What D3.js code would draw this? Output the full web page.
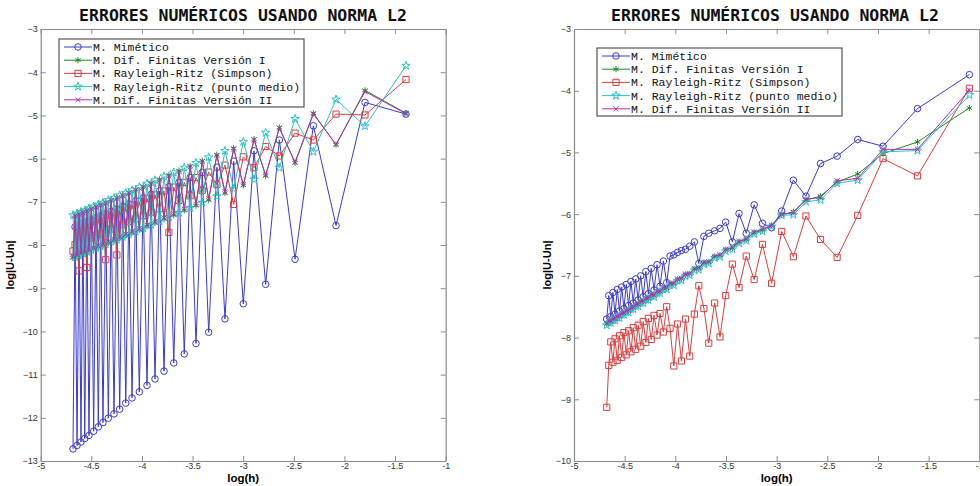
<!DOCTYPE html>
<html>
<head>
<meta charset="utf-8">
<script src="https://cdn.jsdelivr.net/npm/d3@7"></script>
<style>
body { margin: 0; background: #fff; }
</style>
</head>
<body>
<div id="chart"></div>
<script>
// Tick values / labels
var xTicks = [-5, -4.5, -4, -3.5, -3, -2.5, -2, -1.5, -1];
var xTickLabels = ["-5", "-4.5", "-4", "-3.5", "-3", "-2.5", "-2", "-1.5", "-1"];
var leftYTicks = [-13, -12, -11, -10, -9, -8, -7, -6, -5, -4, -3];
var rightYTicks = [-10, -9, -8, -7, -6, -5, -4, -3];

var titleText = "ERRORES NUMÉRICOS USANDO NORMA L2";
var xLabel = "log(h)";
var yLabel = "log|U-Un|";
var seriesNames = ["M. Mimético", "M. Dif. Finitas Versión I", "M. Rayleigh-Ritz (Simpson)",
    "M. Rayleigh-Ritz (punto medio)", "M. Dif. Finitas Versión II"];

// Left panel data (log h, log error)
var leftX = [-4.681, -4.661, -4.641, -4.621, -4.602, -4.583, -4.565, -4.544, -4.523, -4.500,
    -4.477, -4.454, -4.431, -4.408, -4.385, -4.358, -4.332, -4.304, -4.276, -4.248,
    -4.220, -4.190, -4.160, -4.129, -4.098, -4.062, -4.026, -3.988, -3.950, -3.910,
    -3.871, -3.826, -3.782, -3.734, -3.686, -3.634, -3.582, -3.524, -3.466, -3.404,
    -3.341, -3.260, -3.180, -3.094, -2.999, -2.893, -2.778, -2.643, -2.488, -2.307,
    -2.083, -1.797, -1.392];
var leftMimetico = [-12.72, -7.58, -12.64, -7.54, -12.56, -7.50, -12.48, -7.46, -12.41, -7.42,
    -12.31, -7.37, -12.21, -7.33, -12.11, -7.28, -12.01, -7.22, -11.91, -7.17,
    -11.80, -7.11, -11.66, -7.05, -11.54, -6.98, -11.40, -6.91, -11.25, -6.83,
    -11.10, -6.75, -10.92, -6.65, -10.73, -6.55, -10.52, -6.44, -10.28, -6.32,
    -10.02, -6.20, -9.71, -6.06, -9.36, -5.82, -8.91, -5.57, -8.33, -5.24,
    -7.55, -4.70, -4.97];
var leftDifI = [-8.30, -7.31, -8.26, -7.27, -8.22, -7.23, -8.19, -7.19, -8.14, -7.15,
    -8.10, -7.10, -8.05, -7.06, -8.01, -7.01, -7.95, -6.95, -7.90, -6.90,
    -7.84, -6.84, -7.78, -6.78, -7.72, -6.71, -7.65, -6.64, -7.57, -6.56,
    -7.49, -6.48, -7.40, -6.38, -7.31, -6.28, -7.20, -6.17, -7.09, -6.05,
    -6.96, -5.91, -6.80, -5.76, -6.62, -5.55, -6.40, -5.28, -6.10, -4.95,
    -5.68, -4.42, -4.95];
var leftSimpson = [-8.14, -7.99, -7.61, -8.60, -7.57, -7.91, -7.54, -8.52, -7.49, -7.83,
    -7.45, -7.78, -7.40, -7.74, -7.36, -8.34, -7.30, -7.63, -7.25, -8.23,
    -7.19, -7.52, -7.13, -7.46, -7.07, -7.39, -7.00, -7.32, -6.92, -7.24,
    -6.84, -7.16, -6.75, -7.71, -6.66, -6.97, -6.55, -6.86, -6.44, -6.74,
    -6.31, -6.60, -6.15, -7.06, -5.96, -6.21, -5.72, -5.94, -5.41, -5.57,
    -4.97, -4.99, -4.17];
var leftPuntoMedio = [-7.31, -8.28, -7.27, -8.24, -7.23, -8.20, -7.20, -8.16, -7.15, -8.12,
    -7.11, -8.07, -7.06, -8.03, -7.02, -7.98, -6.96, -7.92, -6.91, -7.87,
    -6.85, -7.81, -6.79, -7.75, -6.73, -7.68, -6.66, -7.61, -6.58, -7.53,
    -6.50, -7.45, -6.41, -7.35, -6.32, -7.25, -6.21, -7.14, -6.10, -7.02,
    -5.97, -6.87, -5.82, -6.70, -5.61, -6.48, -5.40, -6.21, -5.08, -5.84,
    -4.63, -5.25, -3.85];
var leftDifII = [-8.27, -7.33, -8.23, -7.29, -8.19, -7.25, -8.16, -7.21, -8.11, -7.17,
    -8.07, -7.12, -8.02, -7.08, -7.98, -7.03, -7.92, -6.97, -7.87, -6.92,
    -7.81, -6.86, -7.75, -6.80, -7.69, -6.73, -7.62, -6.66, -7.54, -6.58,
    -7.46, -6.50, -7.37, -6.40, -7.28, -6.30, -7.17, -6.19, -7.06, -6.07,
    -6.93, -5.93, -6.77, -5.78, -6.60, -5.57, -6.38, -5.30, -6.08, -4.97,
    -5.67, -4.45, -4.96];

// Right panel data
var rightX = [-4.677, -4.657, -4.637, -4.616, -4.595, -4.573, -4.551, -4.529, -4.507, -4.484,
    -4.461, -4.438, -4.415, -4.391, -4.367, -4.342, -4.317, -4.291, -4.266, -4.238,
    -4.210, -4.180, -4.151, -4.118, -4.085, -4.052, -4.015, -3.978, -3.940, -3.900,
    -3.858, -3.812, -3.768, -3.718, -3.670, -3.612, -3.559, -3.503, -3.437, -3.371,
    -3.300, -3.222, -3.140, -3.050, -2.950, -2.835, -2.711, -2.567, -2.403, -2.200,
    -1.950, -1.610, -1.098];
var rightMimetico = [-7.70, -7.32, -7.66, -7.27, -7.62, -7.22, -7.57, -7.18, -7.53, -7.14,
    -7.48, -7.09, -7.44, -7.05, -7.39, -7.00, -7.34, -6.93, -7.29, -6.88,
    -7.23, -6.82, -7.17, -6.76, -7.11, -6.68, -6.66, -6.62, -6.59, -6.57,
    -6.52, -6.45, -6.80, -6.36, -6.31, -6.27, -6.23, -6.13, -6.45, -5.99,
    -6.31, -5.85, -6.15, -6.22, -5.95, -5.45, -5.71, -5.18, -5.06, -4.79,
    -4.90, -4.29, -3.74];
var rightDifI = [-7.78, -7.74, -7.74, -7.70, -7.70, -7.66, -7.66, -7.61, -7.61, -7.57,
    -7.57, -7.52, -7.52, -7.47, -7.47, -7.42, -7.42, -7.37, -7.37, -7.31,
    -7.32, -7.26, -7.26, -7.20, -7.20, -7.13, -7.13, -7.06, -7.05, -6.98,
    -6.97, -6.89, -6.88, -6.79, -6.78, -6.69, -6.67, -6.58, -6.55, -6.45,
    -6.41, -6.30, -6.26, -6.18, -6.01, -5.96, -5.77, -5.71, -5.48, -5.35,
    -5.02, -4.83, -4.28];
var rightSimpson = [-9.13, -8.45, -8.07, -8.40, -8.02, -8.37, -7.97, -8.32, -7.92, -8.28,
    -7.89, -8.23, -7.84, -8.19, -7.80, -8.14, -7.74, -8.08, -7.69, -8.03,
    -7.64, -7.96, -7.61, -7.91, -7.50, -7.85, -8.46, -7.78, -8.38, -7.70,
    -8.30, -7.62, -7.16, -7.53, -8.09, -7.44, -7.99, -7.32, -6.81, -7.19,
    -6.68, -7.06, -6.49, -7.12, -6.28, -6.69, -6.03, -6.41, -6.70, -6.02,
    -5.10, -5.38, -3.96];
var rightPuntoMedio = [-7.80, -7.76, -7.76, -7.72, -7.72, -7.68, -7.68, -7.63, -7.63, -7.59,
    -7.59, -7.54, -7.54, -7.49, -7.49, -7.44, -7.44, -7.39, -7.39, -7.33,
    -7.34, -7.28, -7.28, -7.22, -7.22, -7.15, -7.15, -7.08, -7.07, -7.00,
    -6.99, -6.91, -6.90, -6.81, -6.80, -6.71, -6.69, -6.60, -6.57, -6.47,
    -6.43, -6.32, -6.28, -6.20, -6.02, -6.01, -5.80, -5.77, -5.50, -5.45,
    -4.99, -4.97, -4.07];
var rightDifII = [-7.77, -7.73, -7.73, -7.69, -7.69, -7.65, -7.65, -7.60, -7.60, -7.56,
    -7.56, -7.51, -7.51, -7.46, -7.46, -7.41, -7.41, -7.36, -7.36, -7.30,
    -7.31, -7.25, -7.25, -7.19, -7.19, -7.12, -7.12, -7.05, -7.04, -6.97,
    -6.96, -6.88, -6.87, -6.78, -6.77, -6.68, -6.66, -6.57, -6.54, -6.44,
    -6.40, -6.29, -6.24, -6.18, -6.00, -5.98, -5.76, -5.73, -5.46, -5.42,
    -4.95, -4.95, -3.99];

// line colours and marker types, same order as seriesNames
var colors = ["#3a3ad2", "#1f8a1f", "#dd3c3c", "#2cc3c3", "#b02fb0"];
var markers = [
    {type: d3.symbolCircle, size: 34},
    {type: d3.symbolAsterisk, size: 26},
    {type: d3.symbolSquare, size: 38},
    {type: d3.symbolStar, size: 22},
    {type: d3.symbolTimes, size: 18}
];

var svg = d3.select("#chart").append("svg")
    .attr("width", 980)
    .attr("height", 486)
    .style("font-family", "'Liberation Sans', Arial, sans-serif");

function drawPanel(p) {
    var x = d3.scaleLinear().domain([-5, -1]).range([p.left, p.right]);
    var y = d3.scaleLinear().domain([p.yTicks[0], -3]).range([p.bottom, p.top]);
    var g = svg.append("g");

    // title
    g.append("text")
        .attr("x", p.titleX)
        .attr("y", 21)
        .attr("text-anchor", "middle")
        .style("font-family", "'DejaVu Sans Mono', monospace")
        .style("font-weight", "bold")
        .style("font-size", "16.5px")
        .style("fill", "#111")
        .text(titleText);

    // axes, ticks inside the box on all four sides
    var axes = [
        {gen: d3.axisBottom(x).tickValues(xTicks).tickFormat(function (d, i) { return xTickLabels[i]; }), tr: "translate(0," + p.bottom + ")"},
        {gen: d3.axisTop(x).tickValues(xTicks).tickFormat(""), tr: "translate(0," + p.top + ")"},
        {gen: d3.axisLeft(y).tickValues(p.yTicks).tickFormat(d3.format("d")), tr: "translate(" + p.left + ",0)"},
        {gen: d3.axisRight(y).tickValues(p.yTicks).tickFormat(""), tr: "translate(" + p.right + ",0)"}
    ];
    axes.forEach(function (a, k) {
        var ax = g.append("g")
            .attr("transform", a.tr)
            .call(a.gen.tickSizeInner(-5).tickSizeOuter(0).tickPadding(k === 0 ? 2 : 3));
        ax.select(".domain").style("stroke", "#8a8a8a").style("stroke-width", 1.2);
        ax.selectAll(".tick line").style("stroke", "#8a8a8a");
        ax.selectAll(".tick text")
            .style("font-family", "'Liberation Sans', Arial, sans-serif")
            .style("font-size", "9px")
            .style("fill", "#333");
    });

    // axis labels
    g.append("text")
        .attr("x", (p.left + p.right) / 2)
        .attr("y", 482)
        .attr("text-anchor", "middle")
        .style("font-weight", "bold")
        .style("font-size", "11.5px")
        .text(xLabel);
    g.append("text")
        .attr("transform", "translate(" + p.yLabelX + "," + p.yLabelY + ") rotate(-90)")
        .attr("text-anchor", "middle")
        .style("font-weight", "bold")
        .style("font-size", "11px")
        .text(yLabel);

    var line = d3.line()
        .x(function (d) { return x(d[0]); })
        .y(function (d) { return y(d[1]); });

    p.series.forEach(function (vals, s) {
        var pts = p.xs.map(function (xv, i) { return [xv, vals[i]]; });
        var sg = g.append("g");
        sg.append("path")
            .datum(pts)
            .attr("d", line)
            .style("fill", "none")
            .style("stroke", colors[s])
            .style("stroke-width", 1);
        sg.selectAll("path.mk")
            .data(pts)
            .enter().append("path")
            .attr("class", "mk")
            .attr("d", d3.symbol().type(markers[s].type).size(markers[s].size))
            .attr("transform", function (d) { return "translate(" + x(d[0]) + "," + y(d[1]) + ")"; })
            .style("fill", "none")
            .style("stroke", colors[s])
            .style("stroke-width", 1);
    });

    // legend
    var lg = g.append("g");
    lg.append("rect")
        .attr("x", p.legend.x)
        .attr("y", p.legend.y)
        .attr("width", p.legend.w)
        .attr("height", p.legend.h)
        .style("fill", "#fff")
        .style("stroke", "#555")
        .style("stroke-width", 1.2);
    seriesNames.forEach(function (name, s) {
        var ry = p.legend.y + 8 + s * 13.2;
        lg.append("line")
            .attr("x1", p.legend.x + 5).attr("x2", p.legend.x + 33)
            .attr("y1", ry).attr("y2", ry)
            .style("stroke", colors[s]);
        lg.append("path")
            .attr("d", d3.symbol().type(markers[s].type).size(markers[s].size))
            .attr("transform", "translate(" + (p.legend.x + 19) + "," + ry + ")")
            .style("fill", "none")
            .style("stroke", colors[s]);
        lg.append("text")
            .attr("x", p.legend.x + 34)
            .attr("y", ry + 4)
            .style("font-family", "'Liberation Mono', 'DejaVu Sans Mono', monospace")
            .style("font-size", "11.5px")
            .style("fill", "#111")
            .text(name);
    });
}

drawPanel({
    left: 40.7, right: 445.7, top: 29, bottom: 461,
    yTicks: leftYTicks, titleX: 243, yLabelX: 14, yLabelY: 265,
    xs: leftX,
    series: [leftMimetico, leftDifI, leftSimpson, leftPuntoMedio, leftDifII],
    legend: {x: 59, y: 39, w: 245, h: 68}
});
drawPanel({
    left: 574, right: 979.3, top: 29, bottom: 461,
    yTicks: rightYTicks, titleX: 775, yLabelX: 551, yLabelY: 265,
    xs: rightX,
    series: [rightMimetico, rightDifI, rightSimpson, rightPuntoMedio, rightDifII],
    legend: {x: 597, y: 48, w: 245, h: 68}
});
</script>
</body>
</html>
